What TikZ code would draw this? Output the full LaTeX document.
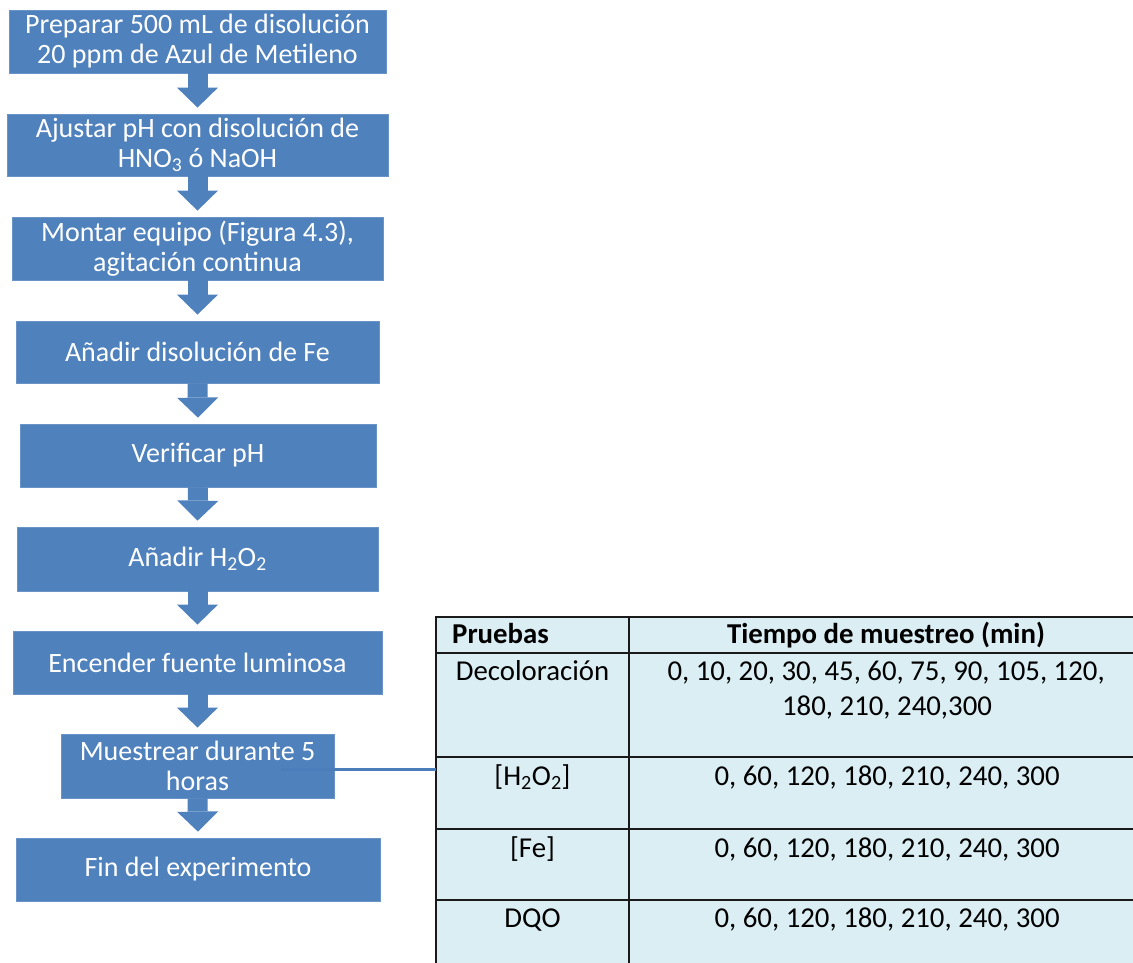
\documentclass[tikz,border=0pt]{standalone}
\usepackage{fontspec}
\setmainfont{Carlito}
\usetikzlibrary{arrows.meta}
\definecolor{boxblue}{HTML}{4F81BD}
\definecolor{linkblue}{HTML}{4A7DBA}
\definecolor{tblfill}{HTML}{DBEEF4}
\definecolor{tblline}{HTML}{1A1A1A}
\begin{document}
\begin{tikzpicture}[x=1pt,y=-1pt,
  stepbox/.style={fill=boxblue, draw=boxblue!85!white, line width=0.8pt, text=white, align=center,
    font=\fontsize{28}{30}\selectfont, inner sep=0pt},
  flow/.style={boxblue, line width=20pt, shorten >=6pt,
    -{Triangle[width=41pt,length=20pt,line width=0pt]}},
  link/.style={draw=linkblue, line width=3pt},
  cell/.style={anchor=base, font=\fontsize{28.8}{34}\selectfont, text=black, inner sep=0pt},
  grid/.style={draw=tblline, line width=2pt}]
\useasboundingbox (0,0) rectangle (1133,962);
\clip (0,0) rectangle (1133,962);

% flow boxes
\node[stepbox, minimum width=377pt, minimum height=63pt] (b1) at (197.5,41.5)
  {Preparar 500 mL de disolución\\20 ppm de Azul de Metileno};
\node[stepbox, minimum width=381pt, minimum height=62pt] (b2) at (197.5,145)
  {Ajustar pH con disolución de\\HNO\textsubscript{3} ó NaOH};
\node[stepbox, minimum width=371pt, minimum height=63pt] (b3) at (197.5,248.5)
  {Montar equipo (Figura 4.3),\\agitación continua};
\node[stepbox, minimum width=363pt, minimum height=62pt] (b4) at (197.5,352)
  {Añadir disolución de Fe};
\node[stepbox, minimum width=356pt, minimum height=63pt] (b5) at (198,455.5)
  {Verificar pH};
\node[stepbox, minimum width=361pt, minimum height=64pt] (b6) at (197.5,559)
  {Añadir H\textsubscript{2}O\textsubscript{2}};
\node[stepbox, minimum width=369pt, minimum height=63pt] (b7) at (197.5,662.5)
  {Encender fuente luminosa};
\node[stepbox, minimum width=273pt, minimum height=64pt] (b8) at (197.5,766)
  {Muestrear durante 5\\horas};
\node[stepbox, minimum width=364pt, minimum height=63pt] (b9) at (198,869.5)
  {Fin del experimento};

% block arrows
\draw[flow] (b1.south) -- (b2.north);
\draw[flow] (b2.south) -- (b3.north);
\draw[flow] (b3.south) -- (b4.north);
\draw[flow] (b4.south) -- (b5.north);
\draw[flow] (b5.south) -- (b6.north);
\draw[flow] (b6.south) -- (b7.north);
\draw[flow] (b7.south) -- (b8.north);
\draw[flow] (b8.south) -- (b9.north);

% table
\node[fill=tblfill, anchor=north west, minimum width=710pt, minimum height=360pt, inner sep=0pt] (tbl) at (436,617) {};
\draw[grid] (436,975) -- (436,617) -- (1145,617);
\draw[grid] (629,617) -- (629,975);
\foreach \yy in {653,757,829,900} \draw[grid] (436,\yy) -- (1145,\yy);

\node[cell, anchor=base west] (hp) at (452,643) {\textbf{Pruebas}};
\node[cell] (ht) at (886,643) {\textbf{Tiempo de muestreo (min)}};
\node[cell] (r1a) at (532.5,680) {Decoloración};
\node[cell] (r1b) at (886,680) {0, 10, 20, 30, 45, 60, 75, 90, 105, 120,};
\node[cell] (r1c) at (887,715) {180, 210, 240,300};
\node[cell] (r2a) at (532.5,785) {[H\textsubscript{2}O\textsubscript{2}]};
\node[cell] (r2b) at (887,785) {0, 60, 120, 180, 210, 240, 300};
\node[cell] (r3a) at (532.5,857) {[Fe]};
\node[cell] (r3b) at (887,857) {0, 60, 120, 180, 210, 240, 300};
\node[cell] (r4a) at (532.5,927) {DQO};
\node[cell] (r4b) at (887,927) {0, 60, 120, 180, 210, 240, 300};

% connector from sampling step to table
\coordinate (c8) at (281,769);
\draw[link] (c8) -- (c8 -| tbl.west);
\end{tikzpicture}
\end{document}
